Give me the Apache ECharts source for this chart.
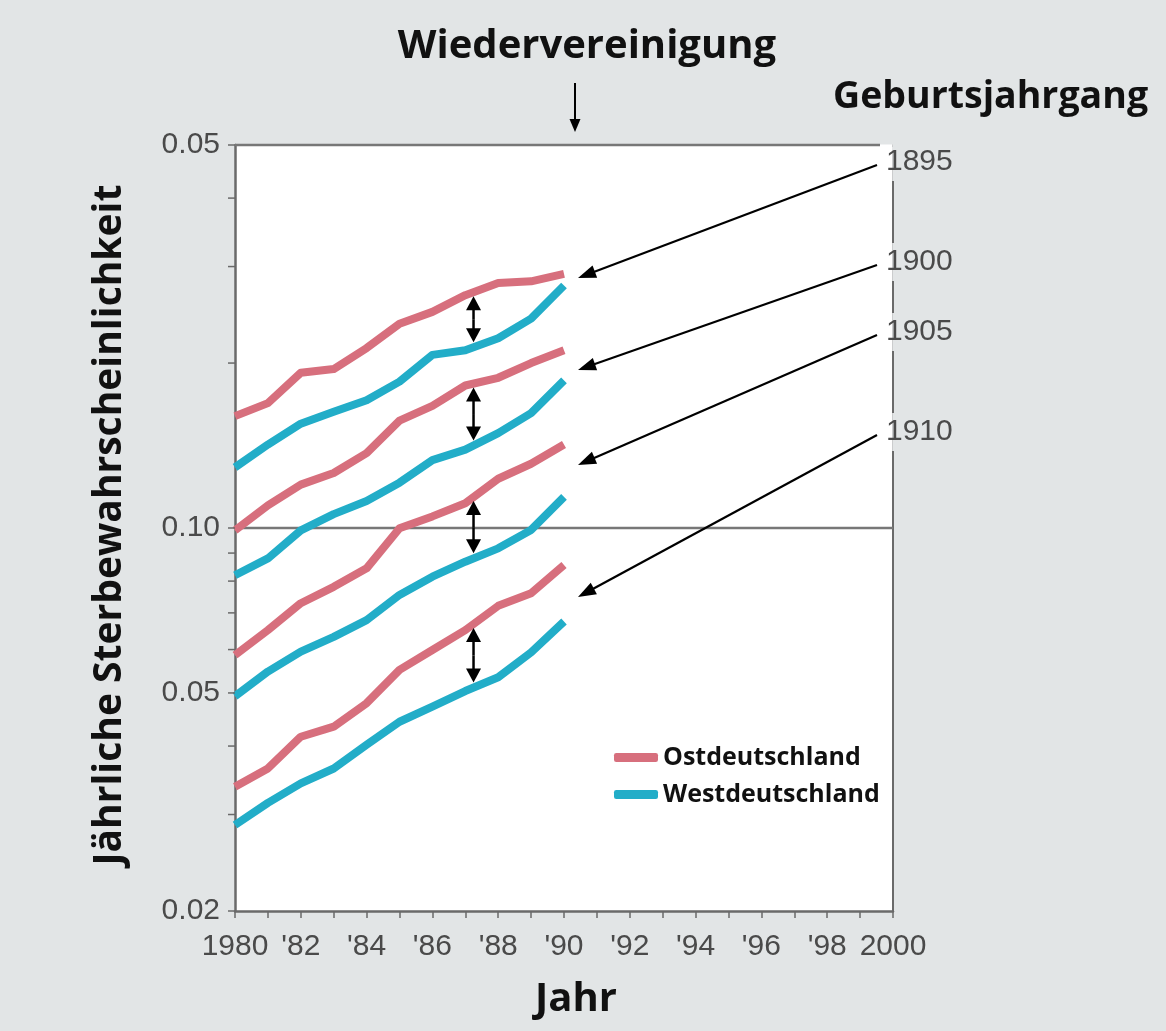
<!DOCTYPE html>
<html><head><meta charset="utf-8">
<script src="https://cdn.jsdelivr.net/npm/echarts@6/dist/echarts.min.js"></script>
<style>html,body{margin:0;padding:0;background:#e2e5e6;} #c{width:1166px;height:1031px;}</style>
</head><body><div id="c"></div>
<script>
// ---- data ----
const years = [1980,1981,1982,1983,1984,1985,1986,1987,1988,1989,1990];
const east1895 = [0.160,0.169,0.192,0.195,0.213,0.236,0.248,0.266,0.280,0.282,0.291];
const west1895 = [0.129,0.142,0.155,0.163,0.171,0.185,0.207,0.211,0.222,0.241,0.277];
const east1900 = [0.099,0.110,0.120,0.126,0.137,0.157,0.167,0.182,0.188,0.200,0.211];
const west1900 = [0.082,0.088,0.099,0.106,0.112,0.121,0.133,0.139,0.149,0.162,0.186];
const east1905 = [0.0586,0.0651,0.0729,0.0781,0.0844,0.0999,0.105,0.111,0.123,0.131,0.142];
const west1905 = [0.0493,0.0547,0.0595,0.0633,0.0679,0.0755,0.0815,0.0868,0.0918,0.0992,0.114];
const east1910 = [0.0337,0.0364,0.0416,0.0434,0.0479,0.0551,0.0599,0.0651,0.0721,0.0760,0.0856];
const west1910 = [0.0287,0.0315,0.0342,0.0364,0.0402,0.0443,0.0472,0.0504,0.0534,0.0593,0.0675];
const cohorts = ['1895','1900','1905','1910'];
const seriesNames = ['Ostdeutschland','Westdeutschland'];
const yTicks = [0.02,0.03,0.04,0.05,0.06,0.07,0.08,0.09,0.1,0.2,0.3,0.4,0.5];
const yLabelValues = [0.02,0.05,0.1,0.5];
const yLabels = ['0.02','0.05','0.10','0.05'];
const yGridValues = [0.1,0.5];
const xLabelYears = [1980,1982,1984,1986,1988,1990,1992,1994,1996,1998,2000];
const xLabels = ['1980',"'82","'84","'86","'88","'90","'92","'94","'96","'98",'2000'];
const xMin = 1980, xMax = 2000, yMin = 0.02, yMax = 0.5;
const eastData = [east1895, east1900, east1905, east1910];
const westData = [west1895, west1900, west1905, west1910];

// ---- styles ----
const RED = '#d76f7d', TEAL = '#22adc8', AXIS = '#6a6a6a', TXT = '#4a4a4a';
const NUMFONT = "'Liberation Sans', Arial, sans-serif";
const BOLDFONT = "'Open Sans', 'Noto Sans', sans-serif";

const chart = echarts.init(document.getElementById('c'), null, {renderer:'canvas'});

const lineSeries = [];
cohorts.forEach((c, i) => {
  lineSeries.push({
    name: seriesNames[1], type:'line', z:3, symbol:'none', silent:true,
    data: years.map((y,k)=>[y, westData[i][k]]),
    lineStyle:{color:TEAL, width:8, join:'round', cap:'butt'}, itemStyle:{color:TEAL}
  });
  lineSeries.push({
    name: seriesNames[0], type:'line', z:3, symbol:'none', silent:true,
    data: years.map((y,k)=>[y, eastData[i][k]]),
    lineStyle:{color:RED, width:8, join:'round', cap:'butt'}, itemStyle:{color:RED}
  });
});

const option = {
  backgroundColor:'#e2e5e6',
  animation:false,
  grid:{left:235, top:145, width:658, height:766, show:true, backgroundColor:'#ffffff', borderWidth:0},
  legend:{
    data: seriesNames, orient:'vertical', left:609, top:740,
    icon:'roundRect', itemWidth:44, itemHeight:9, itemGap:12,
    textStyle:{fontFamily:BOLDFONT, fontWeight:'bold', fontSize:25, color:'#111', lineHeight:25},
    selectedMode:false
  },
  xAxis:{
    type:'value', min:xMin, max:xMax, interval:1,
    axisLine:{show:true, lineStyle:{color:AXIS, width:2.5}},
    axisTick:{show:true, length:7, lineStyle:{color:AXIS, width:1.5}},
    splitLine:{show:false},
    axisLabel:{
      margin:21, fontFamily:NUMFONT, fontSize:30, color:TXT,
      formatter: v => { const i = xLabelYears.indexOf(v); return i>=0 ? xLabels[i] : ''; }
    }
  },
  yAxis:[
    {type:'log', logBase:10, min:yMin, max:yMax,
     axisLine:{show:true, lineStyle:{color:AXIS, width:2.5}},
     axisTick:{show:false}, axisLabel:{show:false}, splitLine:{show:false}, minorTick:{show:false}},
    {type:'log', logBase:10, min:yMin, max:yMax, position:'right',
     axisLine:{show:true, lineStyle:{color:AXIS, width:2}},
     axisTick:{show:false}, axisLabel:{show:false}, splitLine:{show:false}}
  ],
  series:[
    {
      type:'custom', z:1, silent:true, clip:false,
      data: yGridValues.map(v=>[xMin, v]), encode:{x:0, y:1},
      renderItem:(params, api)=>{
        const v = api.value(1);
        const a = api.coord([xMin, v]), b = api.coord([xMax, v]);
        return {type:'line', shape:{x1:a[0], y1:a[1], x2:b[0], y2:b[1]}, style:{stroke:'#777', lineWidth:2.5}};
      }
    },
    ...lineSeries,
    {
      type:'custom', z:5, silent:true, clip:false,
      data: yTicks.map(v=>[xMin, v]), encode:{x:0, y:1},
      renderItem:(params, api)=>{
        const v = api.value(1);
        const p = api.coord([xMin, v]);
        const children = [{type:'line', shape:{x1:p[0]-7, y1:p[1], x2:p[0], y2:p[1]}, style:{stroke:AXIS, lineWidth:1.5}}];
        const li = yLabelValues.indexOf(v);
        if (li >= 0) {
          children.push({type:'text', style:{text:yLabels[li], x:p[0]-15, y:p[1], align:'right', verticalAlign:'middle',
            fontSize:30, fontFamily:NUMFONT, fill:TXT}});
        }
        return {type:'group', children};
      }
    }
  ]
};
chart.setOption(option);

// ---- annotations ----
function arrowEls(x1,y1,x2,y2,headLen,headW,lw){
  const a = Math.atan2(y2-y1, x2-x1);
  const bx = x2 - headLen*Math.cos(a), by = y2 - headLen*Math.sin(a);
  const px = -Math.sin(a)*headW/2, py = Math.cos(a)*headW/2;
  return [
    {type:'line', z:10, shape:{x1, y1, x2:bx+ (x2-bx)*0.3, y2:by+(y2-by)*0.3}, style:{stroke:'#000', lineWidth:lw}},
    {type:'polygon', z:10, shape:{points:[[x2,y2],[bx+px,by+py],[bx-px,by-py]]}, style:{fill:'#000'}}
  ];
}
function pix(year, v){ return chart.convertToPixel({xAxisIndex:0, yAxisIndex:0}, [year, v]); }
function interpPix(arr, t){
  const k = Math.floor(t - years[0]); const f = t - years[0] - k;
  const a = pix(years[k], arr[k]), b = pix(years[k+1], arr[k+1]);
  return [a[0] + (b[0]-a[0])*f, a[1] + (b[1]-a[1])*f];
}

const g = [];
// titles
g.push({type:'text', z:10, style:{text:'Wiedervereinigung', x:587, y:47, align:'center', verticalAlign:'middle',
  fontFamily:BOLDFONT, fontWeight:'bold', fontSize:40, fill:'#111'}});
g.push({type:'text', z:10, style:{text:'Geburtsjahrgang', x:833, y:97, align:'left', verticalAlign:'middle',
  fontFamily:BOLDFONT, fontWeight:'bold', fontSize:37.5, fill:'#111'}});
g.push({type:'text', z:10, x:110, y:525, rotation:Math.PI/2, style:{text:'Jährliche Sterbewahrscheinlichkeit', x:0, y:0,
  align:'center', verticalAlign:'middle', fontFamily:BOLDFONT, fontWeight:'bold', fontSize:39, fill:'#111'}});
g.push({type:'text', z:10, style:{text:'Jahr', x:576, y:1000, align:'center', verticalAlign:'middle',
  fontFamily:BOLDFONT, fontWeight:'bold', fontSize:40, fill:'#111'}});
// reunification arrow
g.push(...arrowEls(575, 83, 575, 132, 13, 11, 2));

// cohort labels + long arrows
const labelY = [162, 262, 332, 432];
const tipY = [278, 370, 465, 597];
cohorts.forEach((c, i) => {
  const top = Math.max(labelY[i]-19, 147);
  g.push({type:'rect', z:8, shape:{x:884, y:top, width:8.5, height:labelY[i]+19-top}, style:{fill:'#ffffff'}});
  g.push({type:'rect', z:8, shape:{x:892.5, y:top, width:8, height:labelY[i]+19-top}, style:{fill:'#e2e5e6'}});
  g.push({type:'text', z:10, style:{text:c, x:886, y:labelY[i], align:'left', verticalAlign:'middle',
    fontFamily:NUMFONT, fontSize:30, fill:TXT}});
  g.push(...arrowEls(877, labelY[i]+3, 578, tipY[i], 18, 13, 2.2));
});
// end of the top line before the first cohort label
g.push({type:'rect', z:8, shape:{x:880, y:142, width:12.5, height:8}, style:{fill:'#ffffff'}});
g.push({type:'rect', z:8, shape:{x:880, y:142, width:20, height:2.5}, style:{fill:'#e2e5e6'}});
g.push({type:'rect', z:8, shape:{x:892.5, y:142, width:8, height:8}, style:{fill:'#e2e5e6'}});

// double arrows between East and West at 1987.25
const tArrow = 1987.25;
cohorts.forEach((c, i) => {
  const pe = interpPix(eastData[i], tArrow), pw = interpPix(westData[i], tArrow);
  const x = pe[0], y1 = pe[1] + 4, y2 = pw[1] - 5, ym = (y1+y2)/2;
  g.push(...arrowEls(x, ym, x, y1, 14, 15, 2.5));
  g.push(...arrowEls(x, ym, x, y2, 14, 15, 2.5));
});

chart.setOption({graphic:{elements:g}});
</script></body></html>
